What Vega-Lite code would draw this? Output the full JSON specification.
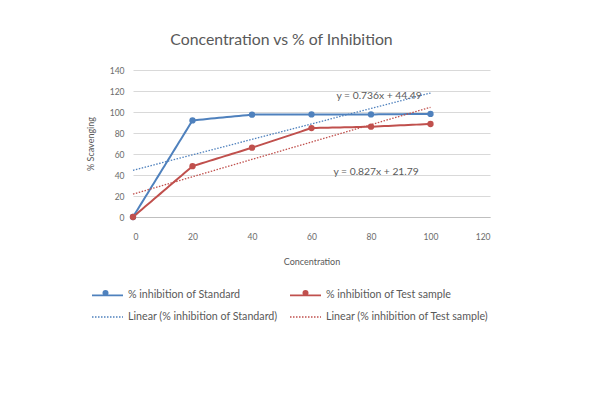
{
  "$schema": "https://vega.github.io/schema/vega-lite/v6.json",
  "width": 357,
  "height": 147,
  "autosize": {"type": "none"},
  "padding": {"left": 133, "top": 70, "right": 100, "bottom": 187},
  "background": "white",
  "title": {
    "text": "Concentration vs % of Inhibition",
    "font": "Lato",
    "fontSize": 15.8,
    "fontWeight": "normal",
    "color": "#595959",
    "anchor": "middle",
    "dx": -30,
    "offset": 17
  },
  "config": {
    "view": {"stroke": null},
    "font": "Lato",
    "axis": {
      "labelFont": "Lato",
      "labelFontSize": 8.5,
      "labelColor": "#6b6b6b",
      "labelOverlap": false,
      "titleFont": "Lato",
      "titleFontSize": 9,
      "titleFontWeight": "normal",
      "titleColor": "#595959",
      "ticks": false,
      "gridColor": "#d9d9d9",
      "gridWidth": 1,
      "domainColor": "#bfbfbf"
    },
    "legend": {
      "title": null,
      "orient": "none",
      "legendX": -42,
      "legendY": 208.5,
      "columns": 2,
      "columnPadding": 8,
      "rowPadding": 0,
      "labelFont": "Lato",
      "labelFontSize": 10.7,
      "labelColor": "#595959",
      "labelOffset": 4,
      "labelLimit": 300,
      "symbolSize": 961,
      "symbolType": "stroke",
      "symbolStrokeWidth": 1.6
    }
  },
  "data": {
    "values": [
      {"series": "% inhibition of Standard", "x": 0, "y": 0},
      {"series": "% inhibition of Standard", "x": 20, "y": 92},
      {"series": "% inhibition of Standard", "x": 40, "y": 97.5},
      {"series": "% inhibition of Standard", "x": 60, "y": 97.7},
      {"series": "% inhibition of Standard", "x": 80, "y": 97.7},
      {"series": "% inhibition of Standard", "x": 100, "y": 98.2},
      {"series": "% inhibition of Test sample", "x": 0, "y": 0},
      {"series": "% inhibition of Test sample", "x": 20, "y": 48.4},
      {"series": "% inhibition of Test sample", "x": 40, "y": 66},
      {"series": "% inhibition of Test sample", "x": 60, "y": 84.7},
      {"series": "% inhibition of Test sample", "x": 80, "y": 86},
      {"series": "% inhibition of Test sample", "x": 100, "y": 88.6},
      {"series": "Linear (% inhibition of Standard)", "x": 0, "y": 44.49},
      {"series": "Linear (% inhibition of Standard)", "x": 100, "y": 118.09},
      {"series": "Linear (% inhibition of Test sample)", "x": 0, "y": 21.79},
      {"series": "Linear (% inhibition of Test sample)", "x": 100, "y": 104.49}
    ]
  },
  "encoding": {
    "x": {
      "field": "x", "type": "quantitative",
      "scale": {"domain": [0, 120], "nice": false},
      "axis": {"values": [0, 20, 40, 60, 80, 100, 120], "tickCount": 12, "grid": false, "title": "Concentration", "labelPadding": 15, "titlePadding": 17, "domain": true}
    },
    "y": {
      "field": "y", "type": "quantitative",
      "scale": {"domain": [0, 140], "nice": false},
      "axis": {"values": [0, 20, 40, 60, 80, 100, 120, 140], "tickCount": 12, "grid": true, "title": "% Scavenging", "labelPadding": 9, "titlePadding": 14, "domain": false}
    }
  },
  "layer": [
    {
      "transform": [{"filter": "indexof(datum.series, 'Linear') !== 0"}],
      "mark": {"type": "line", "strokeWidth": 2},
      "encoding": {
        "color": {
          "field": "series", "type": "nominal",
          "scale": {
            "domain": ["% inhibition of Standard", "Linear (% inhibition of Standard)", "% inhibition of Test sample", "Linear (% inhibition of Test sample)"],
            "range": ["#4f81bd", "#4f81bd", "#c0504d", "#c0504d"]
          }
        },
        "strokeDash": {
          "field": "series", "type": "nominal",
          "scale": {
            "domain": ["% inhibition of Standard", "Linear (% inhibition of Standard)", "% inhibition of Test sample", "Linear (% inhibition of Test sample)"],
            "range": [[4, 0], [1.5, 1.5], [4, 0], [1.5, 1.5]]
          }
        }
      }
    },
    {
      "transform": [{"filter": "indexof(datum.series, 'Linear') === 0"}],
      "mark": {"type": "line", "strokeWidth": 1.3},
      "encoding": {
        "color": {"field": "series", "type": "nominal"},
        "strokeDash": {"field": "series", "type": "nominal"}
      }
    },
    {
      "transform": [{"filter": "indexof(datum.series, 'Linear') !== 0"}],
      "mark": {"type": "point", "filled": true, "size": 40, "opacity": 1, "strokeWidth": 0},
      "encoding": {
        "fill": {
          "field": "series", "type": "nominal",
          "scale": {
            "domain": ["% inhibition of Standard", "% inhibition of Test sample"],
            "range": ["#4f81bd", "#c0504d"]
          },
          "legend": {
            "title": null,
            "orient": "none",
            "legendX": -30.5,
            "legendY": 220,
            "columns": 2,
            "columnPadding": 194,
            "labelExpr": "''",
            "labelFontSize": 1,
            "labelOffset": 0,
            "symbolType": "circle",
            "symbolSize": 36,
            "symbolStrokeWidth": 0
          }
        }
      }
    },
    {
      "data": {
        "values": [
          {"label": "y = 0.736x + 44.49", "x": 82.7, "y": 115.2},
          {"label": "y = 0.827x + 21.79", "x": 81.7, "y": 42.9}
        ]
      },
      "mark": {"type": "text", "font": "Lato", "fontSize": 10.3, "color": "#595959"},
      "encoding": {
        "text": {"field": "label"}
      }
    }
  ]
}
